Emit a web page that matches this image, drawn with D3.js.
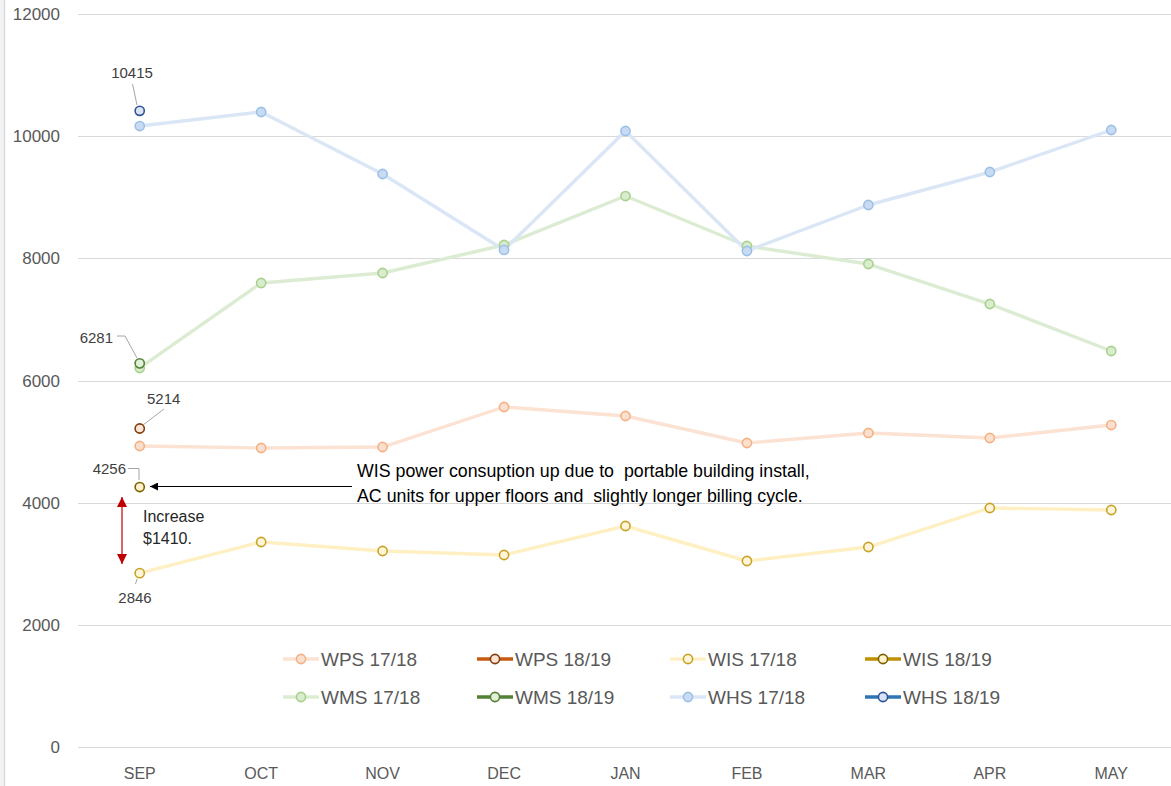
<!DOCTYPE html>
<html>
<head>
<meta charset="utf-8">
<script src="https://cdn.jsdelivr.net/npm/d3@7.9.0/dist/d3.min.js"></script>
<style>
  html, body { margin: 0; padding: 0; background: #fff; }
  svg { display: block; font-family: 'Liberation Sans', Arial, sans-serif; }
</style>
</head>
<body>
<svg id="chart" width="1171" height="786"></svg>
<script>
const months = ['SEP', 'OCT', 'NOV', 'DEC', 'JAN', 'FEB', 'MAR', 'APR', 'MAY'];
const yTicks = [0, 2000, 4000, 6000, 8000, 10000, 12000];

// 2017/18 monthly usage
const wps1718 = [4928, 4895, 4911, 5566, 5419, 4977, 5141, 5059, 5271];
const wis1718 = [2846, 3356, 3209, 3143, 3618, 3045, 3274, 3913, 3880];
const wms1718 = [6205, 7596, 7760, 8218, 9020, 8202, 7907, 7252, 6483];
const whs1718 = [10166, 10396, 9381, 8137, 10085, 8120, 8873, 9413, 10101];

// 2018/19 so far (September only)
const wps1819 = [5214];
const wis1819 = [4256];
const wms1819 = [6281];
const whs1819 = [10415];

const series = [
  { name: 'WPS 17/18', values: wps1718, line: '#fbe2d3', stroke: '#f4b183', fill: '#fbe0d0' },
  { name: 'WPS 18/19', values: wps1819, line: '#c55a11', stroke: '#843c0c', fill: '#fbe5d6' },
  { name: 'WIS 17/18', values: wis1718, line: '#fff0c4', stroke: '#c9a227', fill: '#fff6d9' },
  { name: 'WIS 18/19', values: wis1819, line: '#bf9000', stroke: '#7f6000', fill: '#fff2cc' },
  { name: 'WMS 17/18', values: wms1718, line: '#dcecd2', stroke: '#a9d18e', fill: '#d9ecce' },
  { name: 'WMS 18/19', values: wms1819, line: '#548235', stroke: '#548235', fill: '#e2f0d9' },
  { name: 'WHS 17/18', values: whs1718, line: '#dae6f5', stroke: '#9dc0e8', fill: '#c9dbf2' },
  { name: 'WHS 18/19', values: whs1819, line: '#2e75b6', stroke: '#2f5597', fill: '#dae3f3' },
];

const svg = d3.select('#chart');
const width = 1171;

const x = d3.scalePoint().domain(months).range([79, 1172]).padding(0.5);
const y = d3.scaleLinear().domain([0, 12000]).range([747, 14]);

// left border strip
svg.append('rect').attr('x', 0).attr('y', 0).attr('width', 4).attr('height', 786).attr('fill', '#f3f3f3');
svg.append('line').attr('x1', 4.5).attr('x2', 4.5).attr('y1', 0).attr('y2', 786)
  .attr('stroke', '#d9d9d9').attr('stroke-width', 1.5);

// gridlines
svg.append('g')
  .selectAll('line')
  .data(yTicks)
  .join('line')
  .attr('x1', 78)
  .attr('x2', width)
  .attr('y1', (d) => Math.round(y(d)) + 0.5)
  .attr('y2', (d) => Math.round(y(d)) + 0.5)
  .attr('stroke', '#d9d9d9')
  .attr('stroke-width', 1);

// y labels
svg.append('g')
  .selectAll('text')
  .data(yTicks)
  .join('text')
  .attr('x', 60)
  .attr('y', (d) => y(d) + 6)
  .attr('text-anchor', 'end')
  .attr('font-size', 17)
  .attr('fill', '#595959')
  .text((d) => d);

// x labels
svg.append('g')
  .selectAll('text')
  .data(months)
  .join('text')
  .attr('x', (d) => x(d))
  .attr('y', 779)
  .attr('text-anchor', 'middle')
  .attr('font-size', 16)
  .attr('fill', '#595959')
  .text((d) => d);

// lines and markers
const line = d3.line().x((d, i) => x(months[i])).y((d) => y(d));
const plot = svg.append('g');
series.forEach((s) => {
  if (s.values.length > 1) {
    plot.append('path')
      .attr('d', line(s.values))
      .attr('fill', 'none')
      .attr('stroke', s.line)
      .attr('stroke-width', 3.4)
      .attr('stroke-linejoin', 'round');
  }
});
series.forEach((s) => {
  plot.append('g')
    .selectAll('circle')
    .data(s.values)
    .join('circle')
    .attr('cx', (d, i) => x(months[i]))
    .attr('cy', (d) => y(d))
    .attr('r', 4.6)
    .attr('fill', s.fill)
    .attr('stroke', s.stroke)
    .attr('stroke-width', 1.6);
});

// data labels with leader lines
const labels = [
  { v: whs1819[0], tx: 132, ty: y(whs1819[0]) - 33, anchor: 'middle', pts: [[132.5, 84], [137, 105]] },
  { v: wms1819[0], tx: 113, ty: y(wms1819[0]) - 20, anchor: 'end', pts: [[117, 336], [125, 336], [137, 358]] },
  { v: wps1819[0], tx: 147, ty: y(wps1819[0]) - 25, anchor: 'start', pts: [[164, 409], [143, 425]] },
  { v: wis1819[0], tx: 126, ty: y(wis1819[0]) - 13, anchor: 'end', pts: [[128, 468.5], [139, 468.5], [139, 480]] },
  { v: wis1718[0], tx: 135, ty: y(wis1718[0]) + 30, anchor: 'middle', pts: [[137, 579], [135.5, 584]] },
];
const lab = svg.append('g');
labels.forEach((l) => {
  lab.append('polyline')
    .attr('points', l.pts.map((p) => p.join(',')).join(' '))
    .attr('fill', 'none')
    .attr('stroke', '#a6a6a6')
    .attr('stroke-width', 1);
  lab.append('text')
    .attr('x', l.tx)
    .attr('y', l.ty)
    .attr('text-anchor', l.anchor)
    .attr('font-size', 15)
    .attr('fill', '#404040')
    .text(l.v);
});

// annotation arrow
const defs = svg.append('defs');
defs.append('marker')
  .attr('id', 'blackhead')
  .attr('viewBox', '0 0 10 10')
  .attr('refX', 10).attr('refY', 5)
  .attr('markerWidth', 10).attr('markerHeight', 8)
  .attr('markerUnits', 'userSpaceOnUse')
  .attr('orient', 'auto')
  .append('path').attr('d', 'M0,0 L10,5 L0,10 Z').attr('fill', '#000');
defs.append('marker')
  .attr('id', 'redhead')
  .attr('viewBox', '0 0 10 10')
  .attr('refX', 10).attr('refY', 5)
  .attr('markerWidth', 12).attr('markerHeight', 10)
  .attr('markerUnits', 'userSpaceOnUse')
  .attr('orient', 'auto-start-reverse')
  .append('path').attr('d', 'M0,0 L10,5 L0,10 Z').attr('fill', '#c00000');

svg.append('line')
  .attr('x1', 352).attr('y1', 486.5).attr('x2', 150).attr('y2', 486.5)
  .attr('stroke', '#000').attr('stroke-width', 1)
  .attr('marker-end', 'url(#blackhead)');

svg.append('text')
  .attr('x', 357).attr('y', 477)
  .attr('font-size', 17.8).attr('fill', '#000')
  .attr('xml:space', 'preserve')
  .text('WIS power consuption up due to  portable building install,');
svg.append('text')
  .attr('x', 357).attr('y', 502)
  .attr('font-size', 17.8).attr('fill', '#000')
  .attr('xml:space', 'preserve')
  .text('AC units for upper floors and  slightly longer billing cycle.');

// red increase arrow
svg.append('line')
  .attr('x1', 122).attr('y1', 497).attr('x2', 122).attr('y2', 564)
  .attr('stroke', '#c00000').attr('stroke-width', 1.2)
  .attr('marker-start', 'url(#redhead)')
  .attr('marker-end', 'url(#redhead)');
svg.append('text').attr('x', 143).attr('y', 522).attr('font-size', 16).attr('fill', '#262626').text('Increase');
svg.append('text').attr('x', 143).attr('y', 544).attr('font-size', 16).attr('fill', '#262626').text('$1410.');

// legend: row 1 WPS/WIS, row 2 WMS/WHS
const legendCols = [283, 477, 670, 865];
const legendRows = [659, 697];
const legend = svg.append('g');
series.forEach((s, i) => {
  const row = i < 4 ? 0 : 1;
  const col = i % 4;
  const g = legend.append('g').attr('transform', `translate(${legendCols[col]},${legendRows[row]})`);
  g.append('line').attr('x1', 0).attr('x2', 36).attr('y1', 0).attr('y2', 0)
    .attr('stroke', s.line).attr('stroke-width', 3.4);
  g.append('circle').attr('cx', 18).attr('cy', 0).attr('r', 4.6)
    .attr('fill', s.fill).attr('stroke', s.stroke).attr('stroke-width', 1.6);
  g.append('text').attr('x', 38).attr('y', 7)
    .attr('font-size', 19).attr('fill', '#595959').text(s.name);
});
</script>
</body>
</html>
